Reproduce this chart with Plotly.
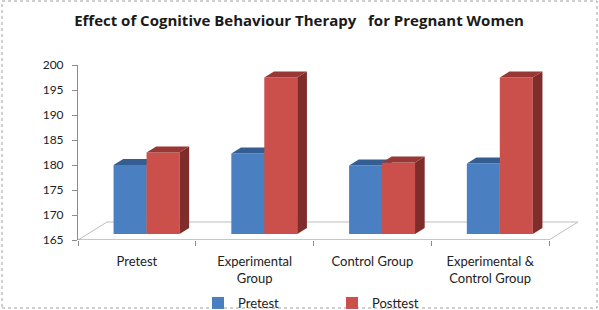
import plotly.graph_objects as go

# ---------------- data ----------------
categories = ["Pretest", "Experimental<br>Group", "Control Group",
              "Experimental &<br>Control Group"]
series_names = ["Pretest", "Posttest"]
pretest_values = [178.8, 181.1, 178.7, 179.1]
posttest_values = [181.3, 196.3, 179.3, 196.3]
y_tick_values = [165, 170, 175, 180, 185, 190, 195, 200]
title_text = "Effect of Cognitive Behaviour Therapy\u00a0\u00a0\u00a0for Pregnant Women"

# ---------------- style ----------------
W, H = 599, 310
ML, MR, MT, MB = 78, 21, 65, 70
PW, PH = W - ML - MR, H - MT - MB
FONT = "Lato"
Y_MIN, Y_MAX = y_tick_values[0], y_tick_values[-1]
DX = 0.246      # floor depth in category units
DY = 3.6        # floor depth in value units
BAR_W = 0.28
D0, D1 = 1 / 3, 2 / 3   # bar depth span (fraction of floor depth)

BLUE, BLUE_TOP, BLUE_SIDE = "#4A80C2", "#345E92", "#2E5382"
RED, RED_TOP, RED_SIDE = "#CB504B", "#983733", "#7E2D2A"


def faces(values, u_offset):
    tx, ty, sx, sy = [], [], [], []
    for i, v in enumerate(values):
        u0 = i + u_offset
        u1 = u0 + BAR_W
        tx += [u0 + D0 * DX, u1 + D0 * DX, u1 + D1 * DX, u0 + D1 * DX, u0 + D0 * DX, None]
        ty += [v + D0 * DY, v + D0 * DY, v + D1 * DY, v + D1 * DY, v + D0 * DY, None]
        sx += [u1 + D0 * DX, u1 + D1 * DX, u1 + D1 * DX, u1 + D0 * DX, u1 + D0 * DX, None]
        sy += [Y_MIN + D0 * DY, Y_MIN + D1 * DY, v + D1 * DY, v + D0 * DY, Y_MIN + D0 * DY, None]
    return tx, ty, sx, sy


x_pos = list(range(len(categories)))
fig = go.Figure()

# blue series (base subplot)
b_tx, b_ty, b_sx, b_sy = faces(pretest_values, -BAR_W)
fig.add_trace(go.Bar(x=x_pos, y=[v - Y_MIN for v in pretest_values], base=Y_MIN + D0 * DY,
                     offset=-BAR_W + D0 * DX, width=BAR_W, name=series_names[0],
                     marker=dict(color=BLUE, line=dict(width=0)), xaxis="x", yaxis="y"))
fig.add_trace(go.Scatter(x=b_sx, y=b_sy, fill="toself", fillcolor=BLUE_SIDE, mode="none",
                         showlegend=False, hoverinfo="skip", xaxis="x", yaxis="y"))
fig.add_trace(go.Scatter(x=b_tx, y=b_ty, fill="toself", fillcolor=BLUE_TOP, mode="none",
                         showlegend=False, hoverinfo="skip", xaxis="x", yaxis="y"))

# red series (overlay subplot, drawn above blue)
r_tx, r_ty, r_sx, r_sy = faces(posttest_values, 0.0)
fig.add_trace(go.Bar(x=x_pos, y=[v - Y_MIN for v in posttest_values], base=Y_MIN + D0 * DY,
                     offset=D0 * DX, width=BAR_W, name=series_names[1],
                     marker=dict(color=RED, line=dict(width=0)), xaxis="x2", yaxis="y2"))
fig.add_trace(go.Scatter(x=r_sx, y=r_sy, fill="toself", fillcolor=RED_SIDE, mode="none",
                         showlegend=False, hoverinfo="skip", xaxis="x2", yaxis="y2"))
fig.add_trace(go.Scatter(x=r_tx, y=r_ty, fill="toself", fillcolor=RED_TOP, mode="none",
                         showlegend=False, hoverinfo="skip", xaxis="x2", yaxis="y2"))

x_min, x_max = -0.5, len(categories) - 0.5
x_range = [x_min, x_max + DX]
y_range = [Y_MIN, Y_MAX]

# floor outline and front edge
fig.add_shape(type="path", xref="x", yref="y", layer="below",
              path=f"M{x_min},{Y_MIN} L{x_min + DX},{Y_MIN + DY} L{x_max + DX},{Y_MIN + DY} L{x_max},{Y_MIN}",
              line=dict(color="#BDBDBD", width=1))
fig.add_shape(type="line", xref="x", yref="y", x0=x_min, x1=x_max, y0=Y_MIN, y1=Y_MIN,
              line=dict(color="#8C8C8C", width=1))
# chart border
fig.add_shape(type="rect", xref="paper", yref="paper",
              x0=(2 - ML) / PW, x1=(597 - ML) / PW, y0=(H - MB - 308) / PH, y1=(H - MB - 1) / PH,
              line=dict(color="#A0A0A0", width=1, dash="dot"))

fig.update_layout(
    width=W, height=H,
    margin=dict(l=ML, r=MR, t=MT, b=MB, autoexpand=False),
    paper_bgcolor="white", plot_bgcolor="white",
    barmode="overlay",
    font=dict(family=FONT, size=13, color="#222222"),
    title=dict(text=f"<b>{title_text}</b>", x=299 / W, xanchor="center", xref="container",
               y=1 - 21 / H, yanchor="middle", yref="container",
               font=dict(family="Open Sans", size=15, color="#1a1a1a")),
    xaxis=dict(range=x_range, tickvals=x_pos, ticktext=categories, ticks="",
               showline=False, showgrid=False, zeroline=False, ticklabelstandoff=12,
               minor=dict(tickvals=[x_min + k for k in range(len(categories) + 1)],
                          ticks="outside", ticklen=5, tickcolor="#8C8C8C", showgrid=False),
               tickfont=dict(size=13)),
    yaxis=dict(range=y_range, tickvals=y_tick_values, ticks="outside", ticklen=5,
               tickcolor="#8C8C8C", showline=True, linecolor="#8C8C8C", linewidth=1,
               showgrid=False, zeroline=False, ticklabelstandoff=6, tickfont=dict(size=12)),
    xaxis2=dict(range=x_range, overlaying="x", visible=False),
    yaxis2=dict(range=y_range, overlaying="y", visible=False),
    legend=dict(orientation="h", x=(198 - ML) / PW, xanchor="left",
                y=(H - MB - 303) / PH, yanchor="middle", entrywidth=89,
                font=dict(size=13), bgcolor="rgba(0,0,0,0)", itemclick=False),
)

fig.write_html("out.html", config={"displayModeBar": False},
               post_script="document.body.style.margin='0';document.body.style.overflow='hidden';")
